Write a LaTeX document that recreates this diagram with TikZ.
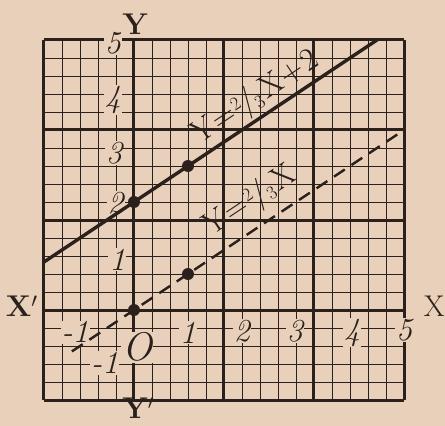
\documentclass[tikz,border=0pt]{standalone}
\usetikzlibrary{calc}
\definecolor{paper}{RGB}{232,208,186}
\definecolor{ink}{RGB}{42,32,28}
\begin{document}
\begin{tikzpicture}[x=54pt,y=54pt,
  thingrid/.style={ink,line width=0.8pt},
  thickgrid/.style={ink,line width=3pt},
  tick/.style={fill=paper,inner sep=1pt,font=\fontsize{32}{32}\selectfont\itshape,text=ink},
  axlabel/.style={inner sep=1pt,font=\fontsize{30}{30}\selectfont\bfseries,text=ink},
  eqlabel/.style={inner sep=0pt,rotate=33.69,font=\fontsize{32}{32}\selectfont,text=ink},
  dotnode/.style={circle,fill=ink,inner sep=0pt,minimum size=12pt},
  solidline/.style={ink,line width=3.4pt},
  dashline/.style={ink,line width=2.4pt,dash pattern=on 13pt off 8pt}]
\fill[paper] (-134pt,-116pt) rectangle (311pt,310pt);
\useasboundingbox (-134pt,-116pt) rectangle (311pt,310pt);
% grid
\foreach \i in {-5,...,15}{
  \draw[thingrid] ({\i/3},{-5/3}) -- ({\i/3},5);
  \draw[thingrid] ({-5/3},{\i/3}) -- (5,{\i/3});
}
\foreach \i in {-5,0,5,10,15}{
  \draw[thickgrid] ({\i/3},{-5/3}) -- ({\i/3},5);
  \draw[thickgrid] ({-5/3},{\i/3}) -- (5,{\i/3});
}
% tick labels
\node[tick] (y5) at (-0.39,4.94) {5};
\node[tick] (y4) at (-0.39,3.89) {4};
\node[tick] (y3) at (-0.37,2.91) {3};
\node[tick] (y2) at (-0.34,1.98) {2};
\node[tick] (y1) at (-0.31,0.93) {1};
\node[tick] (ym1) at (-0.54,-0.98) {-1};
\node[tick] (xm1) at (-1.09,-0.41) {-1};
\node[tick] (x1) at (1,-0.42) {1};
\node[tick] (x2) at (2,-0.39) {2};
\node[tick] (x3) at (2.98,-0.39) {3};
\node[tick] (x4) at (4.04,-0.42) {4};
\node[tick] (x5) at (5,-0.37) {5};
\node[tick,font=\fontsize{40}{40}\selectfont\itshape] (O) at (0.06,-0.69) {O};
% axis labels
\node[axlabel,fill=paper] (Y) at (0.02,5.3) {Y};
\node[axlabel] (Yp) at (0.08,-1.82) {Y$'$};
\node[axlabel] (Xp) at (-2.08,0.07) {X$'$};
\node[axlabel,font=\fontsize{30}{30}\selectfont] (X) at (5.56,0.07) {X};
% equation labels
\node[eqlabel] (eq1) at (2.25,3.93) {Y\kern2pt=\kern1pt\raisebox{8pt}{\fontsize{19}{19}\selectfont 2}\kern-1pt/\kern-1pt\raisebox{-4pt}{\fontsize{19}{19}\selectfont 3}\kern3pt X\kern2pt+\kern2pt2};
\node[eqlabel] (eq2) at (2.15,2.02) {Y\kern2pt=\kern1pt\raisebox{8pt}{\fontsize{19}{19}\selectfont 2}\kern-1pt/\kern-1pt\raisebox{-4pt}{\fontsize{19}{19}\selectfont 3}\kern3pt X};
% lines
\coordinate (a1) at ({-5/3},{8/9});
\coordinate (a2) at (4.5,5);
\coordinate (b1) at (-1.15,-0.767);
\coordinate (b2) at (5,{10/3});
\draw[solidline] (a1) -- (a2);
\draw[dashline] (b1) -- (b2);
% dots
\node[dotnode] (d1) at (0,0) {};
\node[dotnode] (d2) at (1,{2/3}) {};
\node[dotnode] (d3) at (0,2) {};
\node[dotnode] (d4) at (1,{8/3}) {};
\end{tikzpicture}
\end{document}
